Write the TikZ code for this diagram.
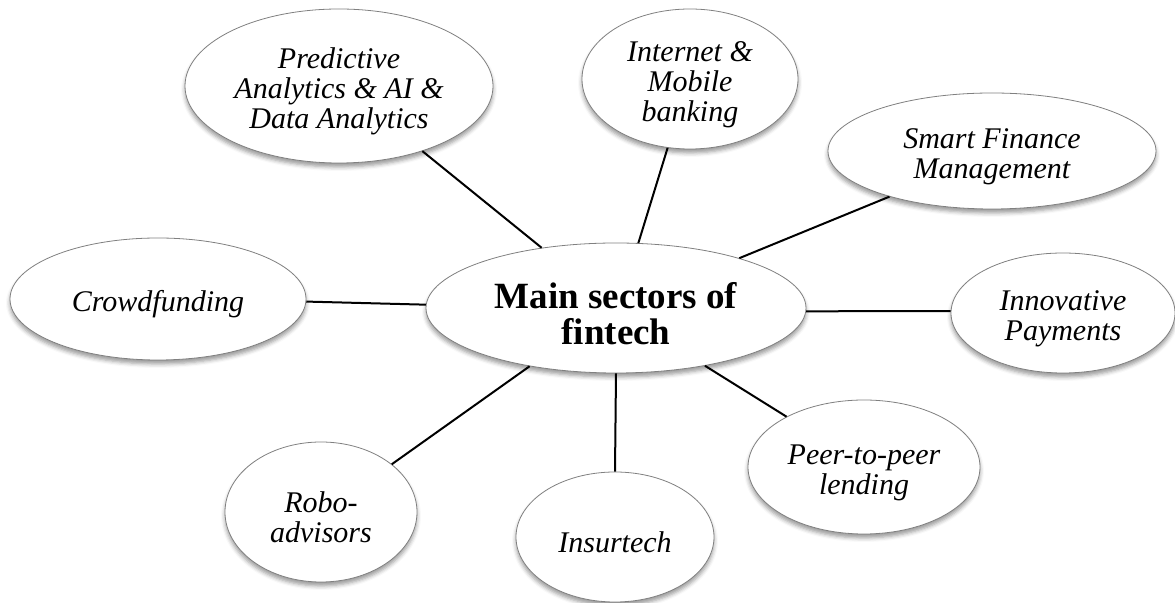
\documentclass[tikz,border=0pt]{standalone}
\usepackage{fontspec}
\setmainfont{Liberation Serif}
\usetikzlibrary{shapes.geometric,shadows.blur}
\newcommand{\toplift}{\rule{0pt}{16pt}}
\begin{document}
\begin{tikzpicture}[x=0.5pt,y=-0.5pt,
  sector/.style={ellipse, draw=black!50, line width=0.4pt, fill=white, inner sep=0pt, align=center,
    font=\fontsize{15}{15}\selectfont\itshape,
    blur shadow={shadow xshift=0pt, shadow yshift=-2pt, shadow blur radius=2pt, shadow opacity=40}},
  hub/.style={sector, font=\fontsize{18.5}{18}\selectfont\bfseries},
  link/.style={draw=black, line width=1pt}]
\useasboundingbox (0,0) rectangle (1175,603);
\node[hub, minimum width=190pt, minimum height=65pt] (main) at (616,308) {\rule{0pt}{19pt}Main sectors of\\fintech};
\node[sector, minimum width=154pt, minimum height=77pt] (pred) at (339,86) {\toplift Predictive\\Analytics \& AI \&\\Data Analytics};
\node[sector, minimum width=108pt, minimum height=70pt] (inet) at (690,79) {\toplift Internet \&\\Mobile\\banking};
\node[sector, minimum width=164pt, minimum height=58pt] (smart) at (992,151) {\toplift Smart Finance\\Management};
\node[sector, minimum width=148pt, minimum height=61pt] (crowd) at (158,299) {\toplift Crowdfunding};
\node[sector, minimum width=112pt, minimum height=60pt] (innov) at (1063,313) {\toplift Innovative\\Payments};
\node[sector, minimum width=116pt, minimum height=67pt] (peer) at (864,467) {\toplift Peer-to-peer\\lending};
\node[sector, minimum width=99pt, minimum height=65pt] (ins) at (615,537) {\toplift Insurtech};
\node[sector, minimum width=96pt, minimum height=70pt] (robo) at (321,512) {\toplift Robo-\\advisors};
\draw[link] (main.141) -- (pred.-38.5);
\draw[link] (main.71.6) -- (inet.-108.2);
\draw[link] (main.22.8) -- (smart.-156.7);
\draw[link] (main.179.1) -- (crowd.-1.5);
\draw[link] (main.-1.2) -- (innov.179.5);
\draw[link] (main.-33.5) -- (peer.147.7);
\draw[link] (main.-90.5) -- (ins.90);
\draw[link] (main.214.9) -- (robo.34.6);
\end{tikzpicture}
\end{document}
